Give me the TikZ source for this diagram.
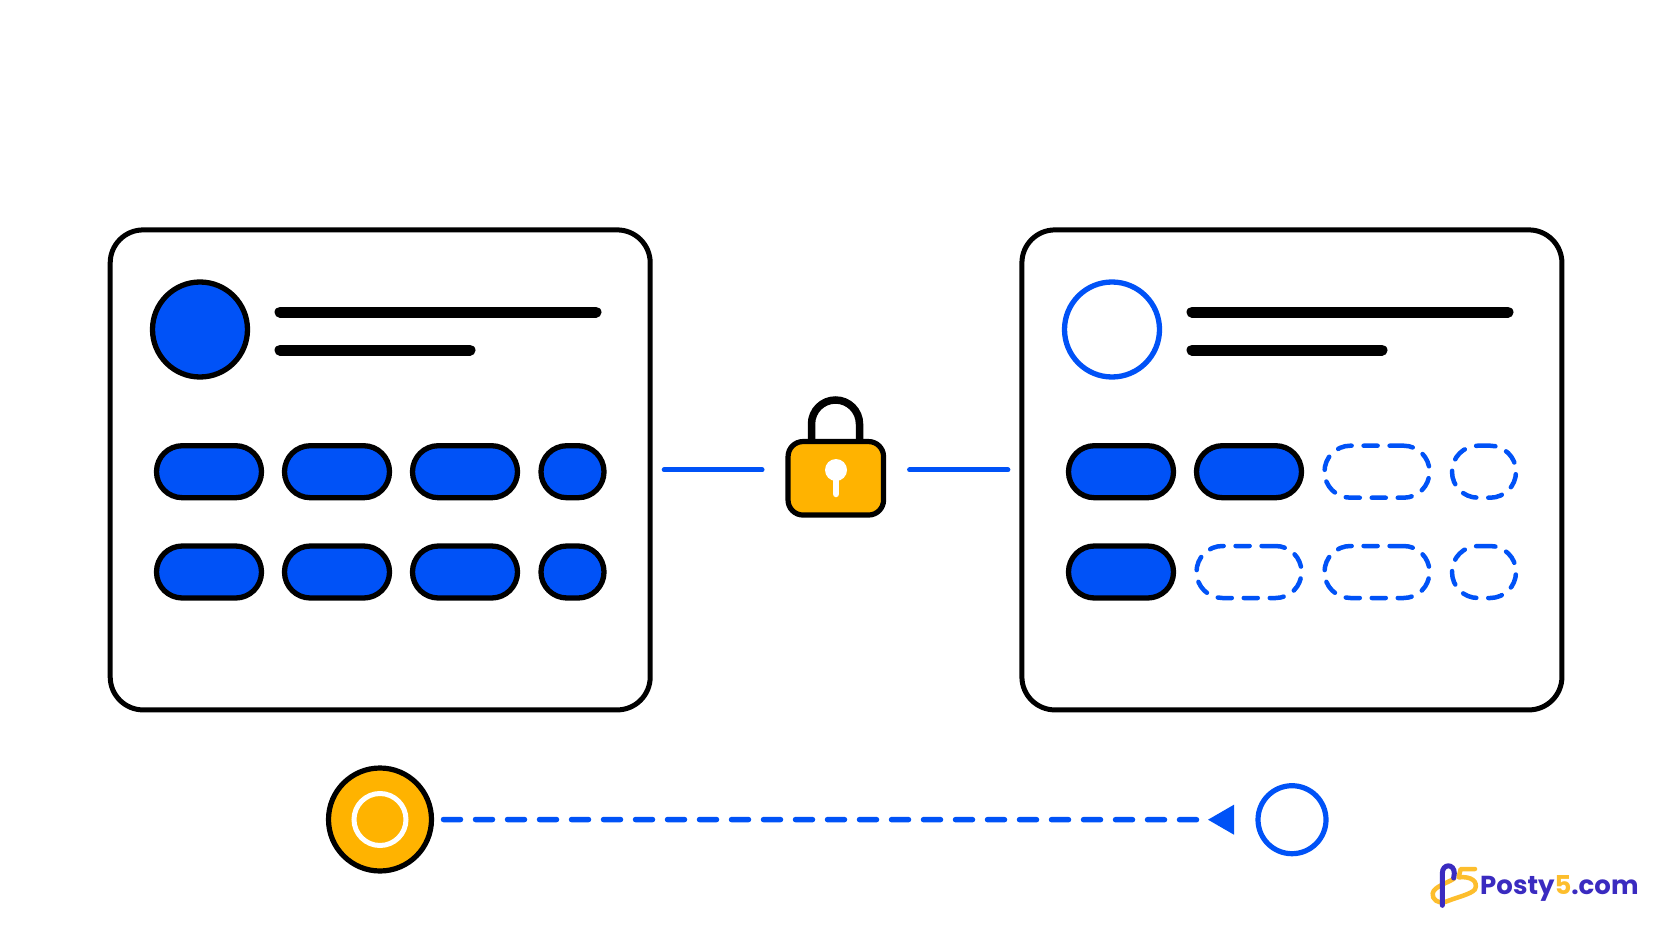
\documentclass[tikz,border=0pt]{standalone}
\usepackage{fontspec}
\setmainfont{Poppins}
\usepackage{xcolor}
\usetikzlibrary{positioning, shapes.geometric, calc}
\definecolor{lockblue}{HTML}{0052F7}
\definecolor{lockamber}{HTML}{FFB300}
\definecolor{logoindigo}{HTML}{3A2BC0}
\definecolor{logoyellow}{HTML}{FDBE2D}
\tikzset{
  card/.style={draw=black, line width=5pt, rounded corners=33pt, minimum width=540pt, minimum height=480pt, outer sep=0pt},
  avatar/.style={circle, line width=5.3pt, minimum size=95pt, inner sep=0pt, outer sep=0pt},
  pillbox/.style={line width=5.3pt, rounded corners=25.9pt, minimum height=52pt, inner sep=0pt, outer sep=0pt},
  openpill/.style={draw=lockblue, line width=4.5pt, rounded corners=25.9pt, minimum height=52pt, inner sep=0pt, outer sep=0pt, line cap=round, dash pattern=on 14pt off 12pt},
  textbar/.style={black, line width=11pt, line cap=round},
  bluelink/.style={lockblue, line width=5pt, line cap=round},
}
\begin{document}
\begin{tikzpicture}[x=1pt, y=-1pt]
  \useasboundingbox (0,0) rectangle (1672,941);

  % Cards
  \node[card] (leftcard) at (380.2,469.9) {};
  \node[card] (rightcard) at (1291.9,469.9) {};

  % Avatars
  \node[avatar, draw=black, fill=lockblue] (leftavatar) at (200,329.5) {};
  \node[avatar, draw=lockblue, fill=white] (rightavatar) at (1112,329.5) {};

  % Text bars
  \draw[textbar] (280,312) -- (596,312);
  \draw[textbar] (280,350) -- (470,350);
  \draw[textbar] (1192,312) -- (1508,312);
  \draw[textbar] (1192,350) -- (1382,350);

  % Left card: all pills filled
  \foreach \y/\r in {471.7/a,572/b} {
    \foreach \x/\w/\c in {209/105/a,337/105/b,465/105/c,572.5/63/d} {
      \node[pillbox, draw=black, fill=lockblue, minimum width=\w pt] (left\r\c) at (\x,\y) {};
    }
  }

  % Right card: filled pills
  \node[pillbox, draw=black, fill=lockblue, minimum width=105pt] (rightaa) at (1121,471.7) {};
  \node[pillbox, draw=black, fill=lockblue, minimum width=105pt] (rightab) at (1249,471.7) {};
  \node[pillbox, draw=black, fill=lockblue, minimum width=105pt] (rightba) at (1121,572) {};

  % Right card: open pills
  \node[openpill, minimum width=105pt] (rightac) at (1377,471.7) {};
  \node[openpill, minimum width=64pt] (rightad) at (1484,471.7) {};
  \node[openpill, minimum width=105pt] (rightbb) at (1249,572) {};
  \node[openpill, minimum width=105pt] (rightbc) at (1377,572) {};
  \node[openpill, minimum width=64pt] (rightbd) at (1484,572) {};

  % Padlock
  \draw[black, line width=7.5pt] (811.5,445) -- (811.5,424) arc[start angle=180, end angle=360, radius=24] -- (859.5,445);
  \node[draw=black, fill=lockamber, line width=5.2pt, rounded corners=15pt, minimum width=95.5pt, minimum height=73.5pt, outer sep=0pt] (lockbody) at (835.8,478.3) {};
  \fill[white] (836,470) circle[radius=11];
  \draw[white, line width=6.5pt, line cap=round] (836,472) -- (836,494);

  % Links to the padlock
  \draw[bluelink, shorten <=14pt, shorten >=26pt] (leftcard.east) -- (leftcard.east -| lockbody.west);
  \draw[bluelink, shorten <=14pt, shorten >=26pt] (rightcard.west) -- (rightcard.west -| lockbody.east);

  % Coin and slot
  \node[circle, draw=black, fill=lockamber, line width=5.2pt, minimum size=103pt, inner sep=0pt, outer sep=0pt] (coin) at (380,819.5) {};
  \node[circle, draw=white, line width=5pt, minimum size=52pt, inner sep=0pt] (coinring) at (coin) {};
  \node[circle, draw=lockblue, fill=white, line width=5.2pt, minimum size=68pt, inner sep=0pt, outer sep=0pt] (slot) at (1292,819.7) {};
  \node[isosceles triangle, isosceles triangle apex angle=60, shape border rotate=180, fill=lockblue, minimum height=26pt, minimum width=30pt, inner sep=0pt, outer sep=0pt, anchor=apex] (tipmark) at (1208,819.7) {};
  \draw[lockblue, line width=5.5pt, line cap=round, dash pattern=on 17pt off 15pt, shorten <=12pt, shorten >=10.5pt] (coin.east) -- (tipmark.apex);

  % Logo
  \begin{scope}[shift={(1400,840)}, x=0.3333pt, y=-0.3333pt]
    \draw[logoyellow, line width=4.5pt, line join=round, line cap=round] (225,87) -- (182,87) -- (176,112) .. controls (215,108) and (235,125) .. (225,148) .. controls (215,162) and (170,172) .. (135,186) .. controls (115,192) and (95,178) .. (98,160) .. controls (102,140) and (140,130) .. (162,116);
    \draw[logoindigo, line width=5pt, line cap=round] (127,196) -- (127,100) .. controls (127,70) and (163,70) .. (163,100) -- (161,114);
  \end{scope}
  \node[anchor=base west, inner sep=0pt, font=\fontsize{26}{28}\selectfont\bfseries, text=logoindigo] (logotext) at (1480,894) {Posty\textcolor{logoyellow}{5}.com};
\end{tikzpicture}
\end{document}
